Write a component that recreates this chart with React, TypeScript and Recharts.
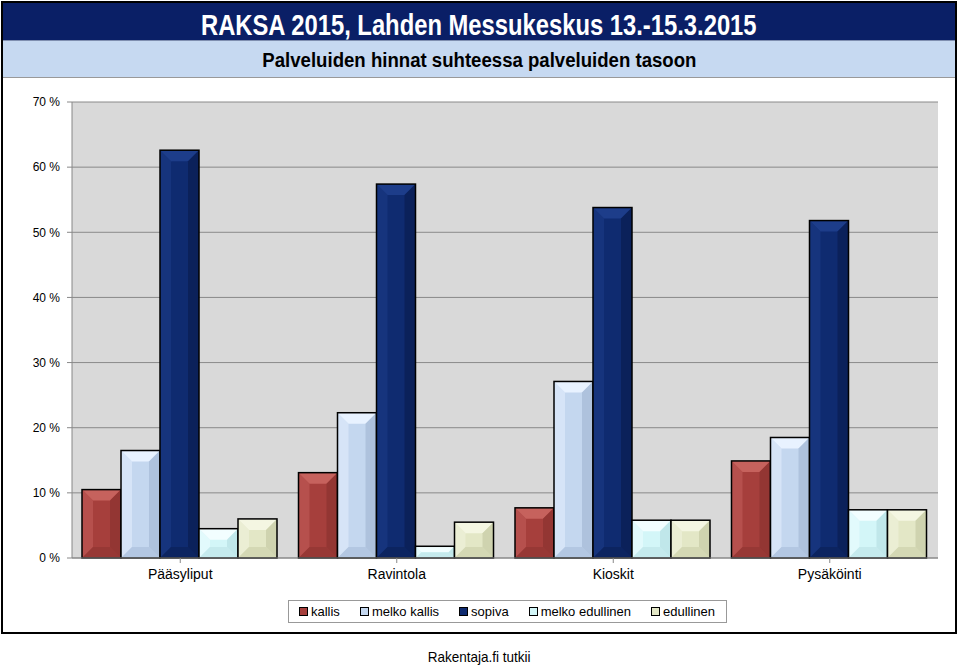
import React from 'react'
import { BarChart, Bar, XAxis, YAxis, CartesianGrid, Legend } from 'recharts'

const categories = ['Pääsyliput', 'Ravintola', 'Kioskit', 'Pysäköinti']
const seriesNames = ['kallis', 'melko kallis', 'sopiva', 'melko edullinen', 'edullinen']

const kallis = [10.5, 13.1, 7.7, 14.9]
const melkoKallis = [16.5, 22.3, 27.1, 18.5]
const sopiva = [62.6, 57.4, 53.8, 51.8]
const melkoEdullinen = [4.5, 1.8, 5.8, 7.4]
const edullinen = [6.0, 5.5, 5.8, 7.4]

const yTicks = [0, 10, 20, 30, 40, 50, 60, 70]

const FONT = '"Liberation Sans", Arial, sans-serif'

// base, light (top/left bevel), dark (right/bottom bevel)
const PALETTE = [
  { base: '#A63F3C', light: '#C6625D', dark: '#8E3431' },
  { base: '#C4D7EF', light: '#E8F2FF', dark: '#A9BDD8' },
  { base: '#0F2B70', light: '#1D3D8A', dark: '#0A1F55' },
  { base: '#D3F6F8', light: '#F2FEFF', dark: '#BCE3E6' },
  { base: '#E3E7C6', light: '#F4F6E2', dark: '#C9CEA9' },
]

const data = categories.map((name, i) => ({
  name,
  kallis: kallis[i],
  'melko kallis': melkoKallis[i],
  sopiva: sopiva[i],
  'melko edullinen': melkoEdullinen[i],
  edullinen: edullinen[i],
}))

const makeShape = (idx: number) => (props: any) => {
  const { x, y, width, height } = props
  if (!height || height <= 0) return <g />
  const c = PALETTE[idx]
  const b = Math.min(11, width / 2, height / 2)
  const x2 = x + width
  const y2 = y + height
  return (
    <g>
      <rect x={x} y={y} width={width} height={height} fill={c.base} />
      <polygon points={`${x},${y} ${x2},${y} ${x2 - b},${y + b} ${x + b},${y + b}`} fill={c.light} />
      <polygon points={`${x},${y} ${x + b},${y + b} ${x + b},${y2 - b} ${x},${y2}`} fill={c.light} opacity={0.5} />
      <polygon points={`${x2},${y} ${x2},${y2} ${x2 - b},${y2 - b} ${x2 - b},${y + b}`} fill={c.dark} opacity={0.8} />
      <polygon points={`${x},${y2} ${x + b},${y2 - b} ${x2 - b},${y2 - b} ${x2},${y2}`} fill={c.dark} opacity={0.6} />
      <rect x={x} y={y} width={width} height={height} fill="none" stroke="#000" strokeWidth={1.5} />
    </g>
  )
}

const LegendBox = () => (
  <div
    style={{
      width: 439,
      height: 23,
      margin: '0 auto',
      border: '1px solid #999',
      background: '#fff',
      display: 'flex',
      alignItems: 'center',
      justifyContent: 'center',
      fontFamily: FONT,
      fontSize: 13,
      color: '#000',
      boxSizing: 'border-box',
      transform: 'translateX(38px)',
    }}
  >
    {seriesNames.map((s, i) => (
      <span key={s} style={{ display: 'flex', alignItems: 'center', marginRight: i < 4 ? 20 : 0 }}>
        <span
          style={{
            width: 7,
            height: 7,
            background: PALETTE[i].base,
            border: '1.5px solid #000',
            marginRight: 3,
            display: 'inline-block',
          }}
        />
        {s}
      </span>
    ))}
  </div>
)

export default function App() {
  return (
    <div style={{ position: 'absolute', left: 0, top: 0, width: 959, height: 666, background: '#fff', fontFamily: FONT }}>
      <div
        style={{
          position: 'absolute',
          left: 1,
          top: 1,
          width: 956,
          height: 633,
          border: '2px solid #000',
          boxSizing: 'border-box',
        }}
      />
      <div
        style={{
          position: 'absolute',
          left: 3,
          top: 3,
          width: 952,
          height: 37,
          background: '#0A1F66',
          color: '#fff',
          fontWeight: 'bold',
          fontSize: 29,
          textAlign: 'center',
          lineHeight: '44px',
          overflow: 'hidden',
        }}
      >
        <span style={{ display: 'inline-block', transform: 'scaleX(0.82)', whiteSpace: 'nowrap' }}>
          RAKSA 2015, Lahden Messukeskus 13.-15.3.2015
        </span>
      </div>
      <div
        style={{
          position: 'absolute',
          left: 3,
          top: 40,
          width: 952,
          height: 38,
          background: '#C6D9F1',
          borderTop: '1px solid #7f8fb0',
          borderBottom: '1px solid #999',
          boxSizing: 'border-box',
          color: '#000',
          fontWeight: 'bold',
          fontSize: 20,
          textAlign: 'center',
          lineHeight: '38px',
        }}
      >
        <span style={{ display: 'inline-block', transform: 'scaleX(0.93)', whiteSpace: 'nowrap' }}>
          Palveluiden hinnat suhteessa palveluiden tasoon
        </span>
      </div>
      <div style={{ position: 'absolute', left: 0, top: 78 }}>
        <BarChart
          width={959}
          height={560}
          data={data}
          margin={{ top: 24, right: 21, left: 0, bottom: 15 }}
          barCategoryGap={10}
          barGap={0}
        >
          <CartesianGrid vertical={false} stroke="#8a8a8a" fill="#D9D9D9" />
          <XAxis
            dataKey="name"
            height={42}
            tickLine={{ stroke: '#888' }}
            tickSize={5}
            tickMargin={6}
            axisLine={{ stroke: '#888' }}
            tick={{ fill: '#000', fontSize: 14, fontFamily: FONT }}
            interval={0}
          />
          <YAxis
            width={72}
            domain={[0, 70]}
            ticks={yTicks}
            tickFormatter={(v: number) => `${v} %`}
            tickLine={{ stroke: '#888' }}
            tickSize={5}
            tickMargin={7}
            axisLine={{ stroke: '#888' }}
            tick={{ fill: '#000', fontSize: 12, fontFamily: FONT }}
          />
          <YAxis yAxisId="r" orientation="right" width={0} tick={false} axisLine={{ stroke: '#888' }} domain={[0, 70]} />
          <Legend verticalAlign="bottom" height={23} content={() => <LegendBox />} />
          {seriesNames.map((s, i) => (
            <Bar key={s} dataKey={s} fill={PALETTE[i].base} shape={makeShape(i)} isAnimationActive={false} />
          ))}
        </BarChart>
      </div>
      <div
        style={{
          position: 'absolute',
          left: 0,
          top: 648,
          width: 959,
          textAlign: 'center',
          fontSize: 15,
          color: '#000',
        }}
      >
        <span style={{ display: 'inline-block', transform: 'scaleX(0.9)' }}>Rakentaja.fi tutkii</span>
      </div>
    </div>
  )
}
